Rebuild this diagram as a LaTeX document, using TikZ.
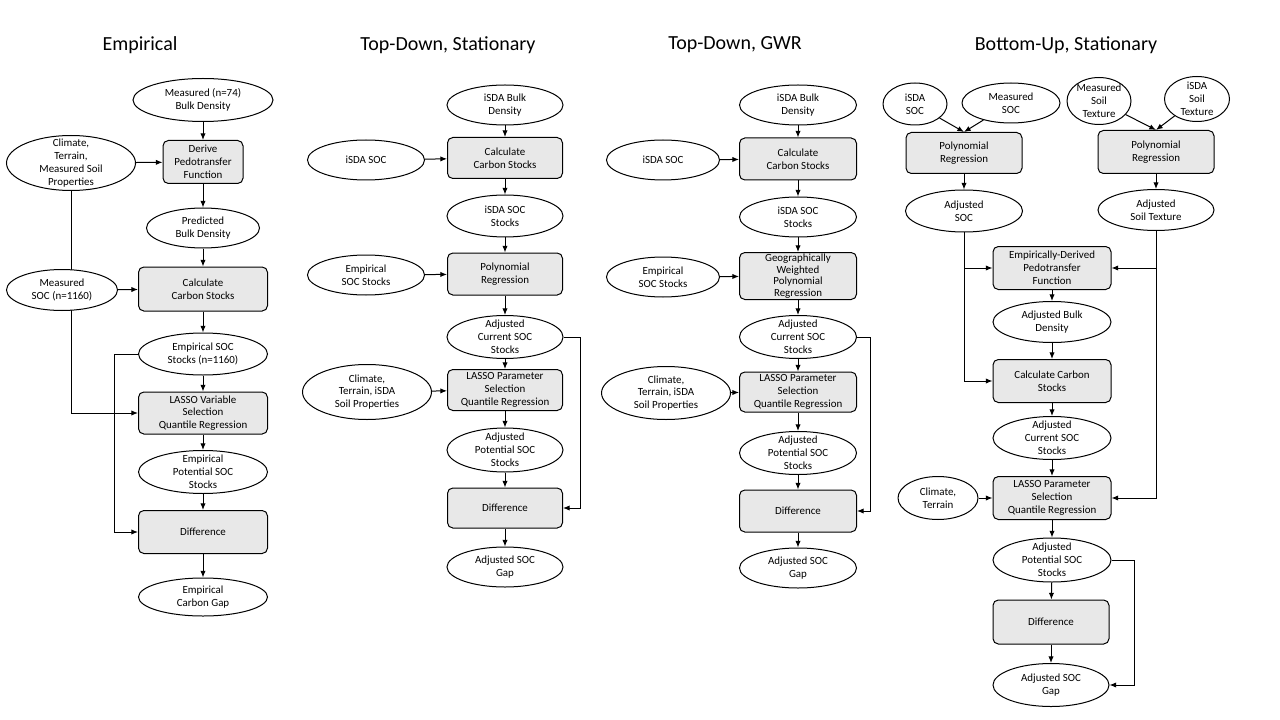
\documentclass[tikz,border=0pt]{standalone}
\usepackage{fontspec}
\setmainfont{Carlito}
\usetikzlibrary{shapes.geometric,arrows.meta,backgrounds}
\definecolor{boxgray}{RGB}{232,232,232}
\tikzset{
  ell/.style={ellipse, draw=black, fill=white, line width=0.75pt, inner sep=0pt},
  box/.style={rectangle, rounded corners=4pt, draw=black, fill=boxgray, line width=0.75pt, inner sep=0pt},
  txt/.style={align=center, inner sep=0pt, font=\fontsize{8.2}{9.6}\selectfont},
  ttl/.style={inner sep=0pt, font=\fontsize{15}{17}\selectfont},
  arr/.style={-{Latex[length=5pt,width=4pt]}, line width=0.75pt}
}
\newcommand\mkell[6]{\node[ell, minimum width=#4*0.75pt, minimum height=#5*0.75pt] (#1) at (#2,#3) {};
  \node[txt] (#1t) at (#1) {#6};}
\newcommand\mkbox[6]{\node[box, minimum width=#4*0.75pt, minimum height=#5*0.75pt] (#1) at (#2,#3) {};
  \node[txt] (#1t) at (#1) {#6};}
\begin{document}
\begin{tikzpicture}[x=0.75pt,y=-0.75pt]
\useasboundingbox (0,0) rectangle (1280,720);
% titles
\node[ttl] (t1) at (140,45) {Empirical};
\node[ttl] (t2) at (448,45) {Top-Down, Stationary};
\node[ttl] (t3) at (735,45) {Top-Down, GWR};
\node[ttl] (t4) at (1066,45) {Bottom-Up, Stationary};
% column 1
\mkell{mbd}{203}{100}{140}{43}{Measured (n=74)\\Bulk Density}
\mkbox{dpf}{203}{162}{80}{43}{Derive\\Pedotransfer\\Function}
\mkell{cli1}{71}{163}{129}{55}{Climate,\\Terrain,\\Measured Soil\\Properties}
\mkell{pbd}{203}{228}{113}{40}{Predicted\\Bulk Density}
\mkbox{ccs1}{203}{289}{129}{44}{Calculate\\Carbon Stocks}
\mkell{msoc}{62}{290}{111}{41}{Measured\\SOC (n=1160)}
\mkell{esoc}{203}{354}{129}{42}{Empirical SOC\\Stocks (n=1160)}
\mkbox{las1}{203}{413}{129}{42}{LASSO Variable\\Selection\\Quantile Regression}
\mkell{epot}{203}{472}{129}{43}{Empirical\\Potential SOC\\Stocks}
\mkbox{dif1}{203}{532}{129}{43}{Difference}
\mkell{gap1}{203}{597}{129}{38}{Empirical\\Carbon Gap}
% column 2
\mkell{bd2}{505}{105}{116}{40}{iSDA Bulk\\Density}
\mkbox{cc2}{505}{158}{115}{41}{Calculate\\Carbon Stocks}
\mkell{soc2}{366}{160}{117}{40}{iSDA SOC}
\mkell{ss2}{505}{216}{116}{42}{iSDA SOC\\Stocks}
\mkbox{pr2}{505}{274}{115}{42}{Polynomial\\Regression}
\mkell{es2}{366}{275}{117}{40}{Empirical\\SOC Stocks}
\mkell{ac2}{505}{337}{116}{43}{Adjusted\\Current SOC\\Stocks}
\mkbox{la2}{505}{390}{115}{41}{LASSO Parameter\\Selection\\Quantile Regression}
\mkell{cl2}{367}{392}{129}{55}{Climate,\\Terrain, iSDA\\Soil Properties}
\mkell{ap2}{505}{450}{116}{44}{Adjusted\\Potential SOC\\Stocks}
\mkbox{di2}{505}{508}{115}{40}{Difference}
\mkell{gp2}{505}{567}{116}{40}{Adjusted SOC\\Gap}
% column 3
\mkell{bd3}{798}{105}{117}{40}{iSDA Bulk\\Density}
\mkbox{cc3}{798}{159}{117}{42}{Calculate\\Carbon Stocks}
\mkell{soc3}{663}{160}{113}{40}{iSDA SOC}
\mkell{ss3}{798}{217}{117}{40}{iSDA SOC\\Stocks}
\node[box, minimum width=117*0.75pt, minimum height=47*0.75pt] (gw3) at (798,276) {};
\node[txt, font=\fontsize{8.2}{8.7}\selectfont] (gw3t) at (gw3) {Geographically\\Weighted\\Polynomial\\Regression};
\mkell{es3}{663}{277}{113}{40}{Empirical\\SOC Stocks}
\mkell{ac3}{798}{337}{117}{43}{Adjusted\\Current SOC\\Stocks}
\mkbox{la3}{798}{392}{117}{40}{LASSO Parameter\\Selection\\Quantile Regression}
\mkell{cl3}{666}{393}{129}{53}{Climate,\\Terrain, iSDA\\Soil Properties}
\mkell{ap3}{798}{453}{117}{43}{Adjusted\\Potential SOC\\Stocks}
\mkbox{di3}{798}{511}{117}{42}{Difference}
\mkell{gp3}{798}{568}{117}{40}{Adjusted SOC\\Gap}
% column 4
\mkell{is4}{915}{104}{64}{42}{iSDA\\SOC}
\mkell{ms4}{1011}{103}{98}{40}{Measured\\SOC}
\mkbox{pa4}{964}{153}{116}{41}{Polynomial\\Regression}
\mkell{mt4}{1099}{101}{64}{47}{Measured\\Soil\\Texture}
\mkell{it4}{1197}{99}{65}{45}{iSDA\\Soil\\Texture}
\mkbox{pb4}{1156}{152}{116}{43}{Polynomial\\Regression}
\mkell{as4}{964}{211}{117}{42}{Adjusted\\SOC}
\mkell{at4}{1156}{210}{116}{41}{Adjusted\\Soil Texture}
\mkbox{ed4}{1052}{268}{118}{43}{Empirically-Derived\\Pedotransfer\\Function}
\mkell{ab4}{1052}{322}{118}{41}{Adjusted Bulk\\Density}
\mkbox{cc4}{1052}{381}{118}{43}{Calculate Carbon\\Stocks}
\mkell{ac4}{1052}{438}{118}{43}{Adjusted\\Current SOC\\Stocks}
\mkbox{la4}{1052}{498}{118}{43}{LASSO Parameter\\Selection\\Quantile Regression}
\mkell{cl4}{938}{498}{80}{43}{Climate,\\Terrain}
\mkell{ap4}{1052}{560}{118}{44}{Adjusted\\Potential SOC\\Stocks}
\mkbox{di4}{1051}{622}{116}{44}{Difference}
\mkell{gp4}{1051}{685}{116}{43}{Adjusted SOC\\Gap}
% connectors
\begin{pgfonlayer}{background}
\fill[white] (0,0) rectangle (1280,720);
% column 1
\draw[arr] (mbd) -- (dpf);
\draw[arr] (cli1) -- (dpf);
\draw[arr] (dpf) -- (pbd);
\draw[arr] (pbd) -- (ccs1);
\draw[arr] (msoc) -- (ccs1);
\draw[arr] (ccs1) -- (esoc);
\draw[arr] (esoc) -- (las1);
\draw[arr] (las1) -- (epot);
\draw[arr] (epot) -- (dif1);
\draw[arr] (dif1) -- (gap1);
\draw[arr] (cli1.south) |- (las1.west);
\draw[arr] (esoc.west) -- ++(-24,0) |- (dif1.west);
% column 2
\draw[arr] (bd2) -- (cc2);
\draw[arr] (soc2) -- (cc2);
\draw[arr] (cc2) -- (ss2);
\draw[arr] (ss2) -- (pr2);
\draw[arr] (es2) -- (pr2);
\draw[arr] (pr2) -- (ac2);
\draw[arr] (ac2) -- (la2);
\draw[arr] (cl2) -- (la2);
\draw[arr] (la2) -- (ap2);
\draw[arr] (ap2) -- (di2);
\draw[arr] (di2) -- (gp2);
\draw[arr] (ac2.east) -- ++(17,0) |- (di2.east);
% column 3
\draw[arr] (bd3) -- (cc3);
\draw[arr] (soc3) -- (cc3);
\draw[arr] (cc3) -- (ss3);
\draw[arr] (ss3) -- (gw3);
\draw[arr] (es3) -- (gw3);
\draw[arr] (gw3) -- (ac3);
\draw[arr] (ac3) -- (la3);
\draw[arr] (cl3) -- (la3);
\draw[arr] (la3) -- (ap3);
\draw[arr] (ap3) -- (di3);
\draw[arr] (di3) -- (gp3);
\draw[arr] (ac3.east) -- ++(13,0) |- (di3.east);
% column 4
\draw[arr] (is4) -- (pa4.north);
\draw[arr] (ms4) -- (pa4.north);
\draw[arr] (mt4) -- (pb4.north);
\draw[arr] (it4) -- (pb4.north);
\draw[arr] (pa4) -- (as4);
\draw[arr] (pb4) -- (at4);
\draw[arr] (as4.south) |- (cc4.west);
\draw[arr] (as4.south |- ed4.west) -- (ed4.west);
\draw[arr] (at4.south) |- (la4.east);
\draw[arr] (at4.south |- ed4.east) -- (ed4.east);
\draw[arr] (ed4) -- (ab4);
\draw[arr] (ab4) -- (cc4);
\draw[arr] (cc4) -- (ac4);
\draw[arr] (ac4) -- (la4);
\draw[arr] (cl4) -- (la4);
\draw[arr] (la4) -- (ap4);
\draw[arr] (ap4) -- (di4);
\draw[arr] (di4) -- (gp4);
\draw[arr] (ap4.east) -- ++(23,0) |- (gp4.east);
\end{pgfonlayer}
\end{tikzpicture}
\end{document}
